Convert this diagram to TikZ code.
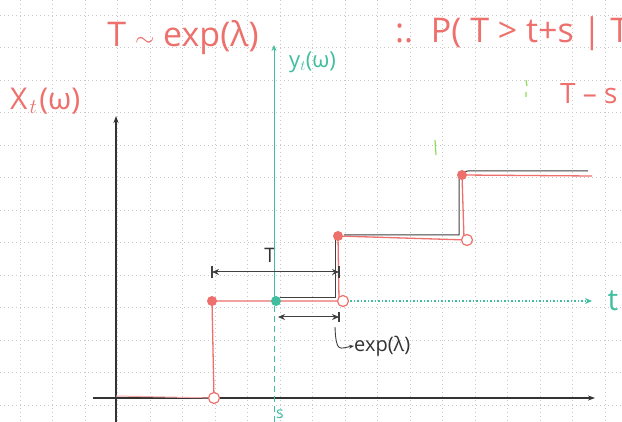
\documentclass[tikz,border=0pt]{standalone}
\usepackage{fontspec}
\setmainfont{Open Sans}
\usetikzlibrary{arrows.meta}
\definecolor{hred}{RGB}{238,112,108}
\definecolor{hgreen}{RGB}{64,190,160}
\definecolor{hlime}{RGB}{140,220,90}
\definecolor{gridc}{RGB}{200,200,200}
\begin{document}
\begin{tikzpicture}[x=1pt,y=-1pt,
  ax/.style={line width=1.1pt,black!80,-{Stealth[length=7pt,width=5pt]}},
  redl/.style={hred,line width=1.3pt},
  blk/.style={black!75,line width=1pt},
  fdot/.style={circle,fill=hred,inner sep=0pt,minimum size=10pt},
  odot/.style={circle,draw=hred,fill=white,line width=1.2pt,inner sep=0pt,minimum size=11pt},
  gdot/.style={circle,fill=hgreen,inner sep=0pt,minimum size=10pt},
  dim/.style={black!75,line width=1pt,>={Stealth[length=7pt,width=6pt]}},
  dbar/.style={black!75,line width=1.2pt},
  lab/.style={inner sep=0pt}]
\useasboundingbox (0,0) rectangle (622,422);
\fill[white] (0,0) rectangle (622,422);
\clip (0,0) rectangle (622,422);
% grid paper
\foreach \gx in {20,52.5,...,622} \draw[gridc,line width=0.6pt,dash pattern=on 1pt off 3pt] (\gx,0) -- (\gx,422);
\foreach \gy in {15,47.5,...,422} \draw[gridc,line width=0.6pt,dash pattern=on 1pt off 3pt] (0,\gy) -- (622,\gy);

% texts
\node[lab,hred,font=\fontsize{34}{40}\selectfont] (tdist) at (183,38) {T $\sim$ exp(λ)};
\node[lab,hred,font=\fontsize{30}{36}\selectfont,anchor=west] (xlab) at (10,101) {X\kern2pt$_t$\kern2pt(ω)};
\node[lab,hred,font=\fontsize{34}{40}\selectfont,anchor=west] (prob) at (395,34) {:.\ \ P( T > t+s | T};
\node[lab,hred,font=\fontsize{28}{34}\selectfont,anchor=west] (tms) at (560,94) {T – s};
\node[lab,hgreen,font=\fontsize{22}{26}\selectfont,anchor=west] (ylab) at (289,62) {y$_t$(ω)};
\node[lab,hgreen,font=\fontsize{30}{34}\selectfont] (tlab) at (613,301) {t};
\node[lab,hgreen,font=\fontsize{16}{20}\selectfont] (slab) at (280,414) {s};
\node[lab,black!80,font=\fontsize{20}{24}\selectfont] (Tlab) at (270,255) {T};
\node[lab,black!80,font=\fontsize{20}{24}\selectfont,anchor=west] (expl) at (354,346) {exp(λ)};

% small green marks
\draw[hlime,line width=1.2pt] (526,80) -- (527,86) (526,92) -- (526,97);
\draw[hlime,line width=1.2pt] (435,140) -- (436,155);

% axes
\coordinate (xb) at (116,422); \coordinate (xt) at (116,116);
\draw[ax] (xb) -- (xt);
\coordinate (hl) at (93,398); \coordinate (hr) at (595,398);
\draw[ax] (hl) -- (hr);

% green axis
\coordinate (gb) at (274,422); \coordinate (gm) at (274,301); \coordinate (gt) at (274,45);
\draw[hgreen,line width=1pt,dash pattern=on 6pt off 4pt] (gb) -- (gm);
\draw[hgreen,line width=1pt,-{Stealth[length=6pt,width=5pt]}] (gm) -- (gt);

% dots positions
\coordinate (o1c) at (214,398);
\coordinate (f1c) at (212,301);
\coordinate (o2c) at (343,301);
\coordinate (f2c) at (338,236);
\coordinate (o3c) at (467,240);
\coordinate (f3c) at (462,175);
\coordinate (endr) at (592,176);
\coordinate (gend) at (592,301);

% red step function
\draw[hred!60,line width=1pt] (116,396) -- (o1c);
\draw[redl] (o1c) -- (f1c) -- (o2c);
\draw[redl] (339,300) -- (f2c) -- (o3c);
\draw[redl] (464,238) -- (f3c) -- (endr);

% green t axis
\draw[hgreen,line width=1.3pt,dash pattern=on 1.5pt off 2pt,-{Stealth[length=7pt,width=6pt]}] (o2c) -- (gend);

% black shifted process
\draw[blk] (280,298) -- (335,298) -- (335,240);
\draw[blk] (344,235) -- (459,235) -- (459,180) to[out=90,in=180] (468,171) -- (588,171);

% dots
\node[odot] (o1) at (o1c) {};
\node[fdot] (f1) at (f1c) {};
\node[odot] (o2) at (o2c) {};
\node[fdot] (f2) at (f2c) {};
\node[odot] (o3) at (o3c) {};
\node[fdot] (f3) at (f3c) {};
\node[gdot] (g1) at (276,301) {};

% dimension lines
\coordinate (d1l) at (212,272); \coordinate (d1r) at (339,272);
\draw[dim,<->] (d1l) -- (d1r);
\draw[dbar] ([yshift=-6pt]d1l) -- ([yshift=6pt]d1l);
\draw[dbar] ([yshift=-6pt]d1r) -- ([yshift=6pt]d1r);
\coordinate (d2l) at (278,317); \coordinate (d2r) at (339,317);
\draw[dim,<->] (d2l) -- (d2r);
\draw[dbar] ([yshift=-5pt]d2r) -- ([yshift=5pt]d2r);

% hook arrow
\coordinate (hk) at (335,327);
\draw[black!75,line width=0.9pt,-{Stealth[length=5pt,width=4pt]}] (hk) .. controls (336,354) and (340,348) .. (expl.west);
\end{tikzpicture}
\end{document}
